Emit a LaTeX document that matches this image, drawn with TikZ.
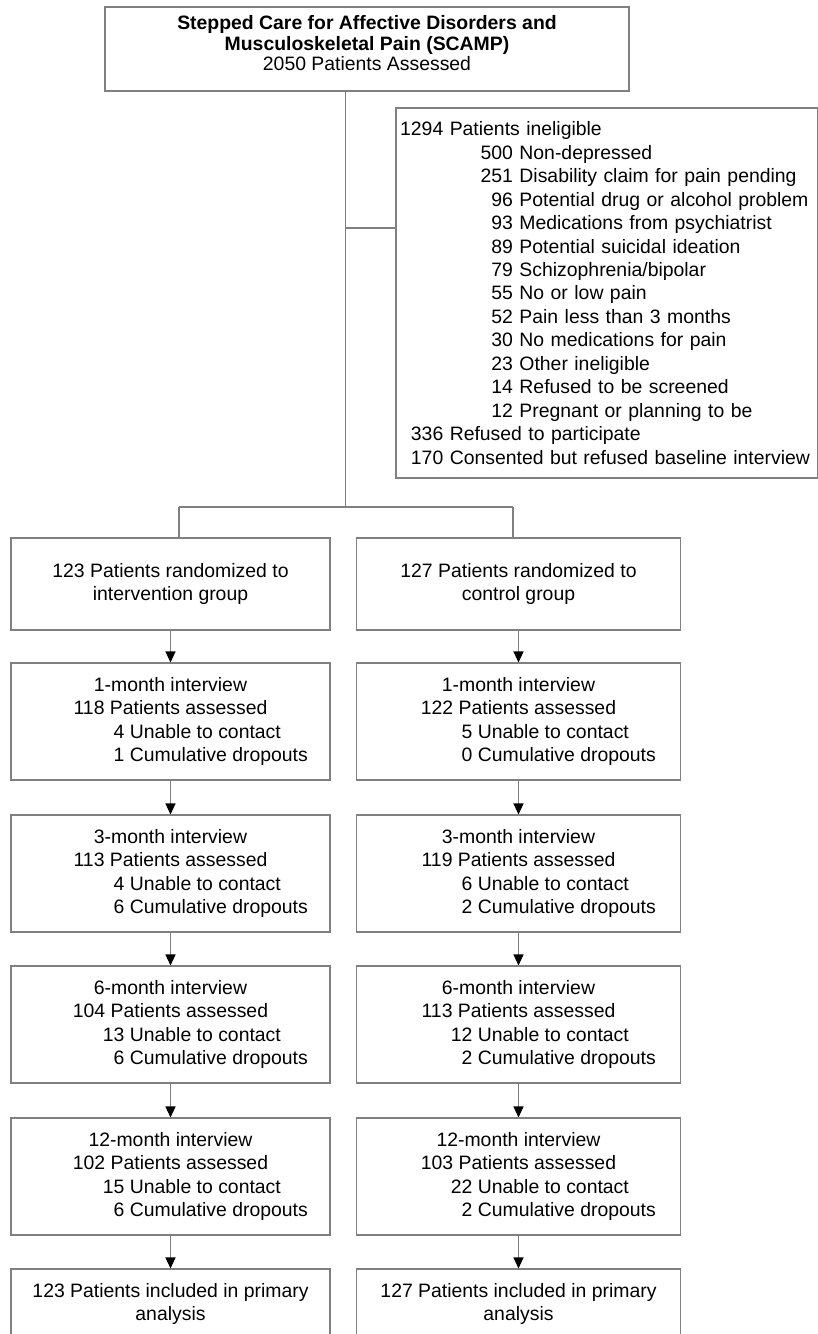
\documentclass[tikz,border=0pt]{standalone}
\usepackage{fontspec}
\setmainfont{Liberation Sans}
\usetikzlibrary{arrows.meta}

\newcommand{\topcount}[2]{\makebox[43.3pt][r]{#1} #2}
\newcommand{\inelcount}[2]{\hspace*{80pt}\makebox[33pt][r]{#1} #2}
\newcommand{\lostline}[2]{\hspace*{74pt}\makebox[210pt][l]{\makebox[22pt][r]{#1} #2}}
\newcommand{\visit}[5]{#1\\#2 Patients assessed\\\lostline{#3}{Unable to contact}\\\lostline{#4}{Cumulative dropouts}#5}

\begin{document}
\begin{tikzpicture}[x=1pt,y=-1pt,
    every node/.style={font=\fontsize{19.4}{23.45}\selectfont},
    box/.style={draw=gray, line width=1.1pt, inner sep=0pt, align=center},
    lcol/.style={box, minimum width=319pt},
    rcol/.style={box, minimum width=324pt},
    line/.style={draw=gray, line width=1.1pt},
    arr/.style={line, -{Triangle[width=10pt,length=11pt,black]}}]
\clip (0,0) rectangle (818,1334);

\node[box, minimum width=524pt, minimum height=84pt, font=\fontsize{19.4}{20.2}\selectfont] (scamp) at (367,49)
  {\textbf{Stepped Care for Affective Disorders and}\\\textbf{Musculoskeletal Pain (SCAMP)}\\2050 Patients Assessed\rule[-12pt]{0pt}{12pt}};

\node[box, minimum width=421.4pt, minimum height=370pt, text width=413.4pt, inner xsep=4pt, align=left] (inel) at (606.7,293)
  {\topcount{1294}{Patients ineligible}\\
   \inelcount{500}{Non-depressed}\\
   \inelcount{251}{Disability claim for pain pending}\\
   \inelcount{96}{Potential drug or alcohol problem}\\
   \inelcount{93}{Medications from psychiatrist}\\
   \inelcount{89}{Potential suicidal ideation}\\
   \inelcount{79}{Schizophrenia/bipolar}\\
   \inelcount{55}{No or low pain}\\
   \inelcount{52}{Pain less than 3 months}\\
   \inelcount{30}{No medications for pain}\\
   \inelcount{23}{Other ineligible}\\
   \inelcount{14}{Refused to be screened}\\
   \inelcount{12}{Pregnant or planning to be}\\
   \topcount{336}{Refused to participate}\\
   \topcount{170}{Consented but refused baseline interview}};

% intervention arm
\node[lcol, minimum height=92pt] (r1) at (170.5,584) {123 Patients randomized to\\intervention group};
\node[lcol, minimum height=117pt] (m1) at (170.5,721.5) {\visit{1-month interview}{118}{4}{1}{}};
\node[lcol, minimum height=117pt] (t1) at (170.5,873.5) {\visit{3-month interview}{113}{4}{6}{}};
\node[lcol, minimum height=117pt] (s1) at (170.5,1024.5) {\visit{6-month interview}{104}{13}{6}{}};
\node[lcol, minimum height=117pt] (y1) at (170.5,1176.5) {\visit{12-month interview}{102}{15}{6}{}};
\node[lcol, minimum height=70pt] (f1) at (170.5,1304) {123 Patients included in primary\\analysis};

% control arm
\node[rcol, minimum height=92pt] (r2) at (518.5,584) {127 Patients randomized to\\control group};
\node[rcol, minimum height=117pt] (m2) at (518.5,721.5) {\visit{1-month interview}{122}{5}{0}{}};
\node[rcol, minimum height=117pt] (t2) at (518.5,873.5) {\visit{3-month interview}{119}{6}{2}{}};
\node[rcol, minimum height=117pt] (s2) at (518.5,1024.5) {\visit{6-month interview}{113}{12}{2}{}};
\node[rcol, minimum height=117pt] (y2) at (518.5,1176.5) {\visit{12-month interview}{103}{22}{2}{}};
\node[rcol, minimum height=70pt] (f2) at (518.5,1304) {127 Patients included in primary\\analysis};

\coordinate (br) at (345.5,228);
\coordinate (sp) at (345.5,507);
\coordinate (sl) at (179,507);
\coordinate (sr) at (513,507);

\draw[line] (scamp.south -| sp) -- (sp);
\draw[line] (br) -- (br -| inel.west);
\draw[line] (sl) -- (sr);
\draw[line] (sl) -- (sl |- r1.north);
\draw[line] (sr) -- (sr |- r2.north);

\foreach \a/\b in {r1/m1, m1/t1, t1/s1, s1/y1, y1/f1, r2/m2, m2/t2, t2/s2, s2/y2, y2/f2}
  \draw[arr] (\a.south) -- (\b.north);
\end{tikzpicture}
\end{document}
